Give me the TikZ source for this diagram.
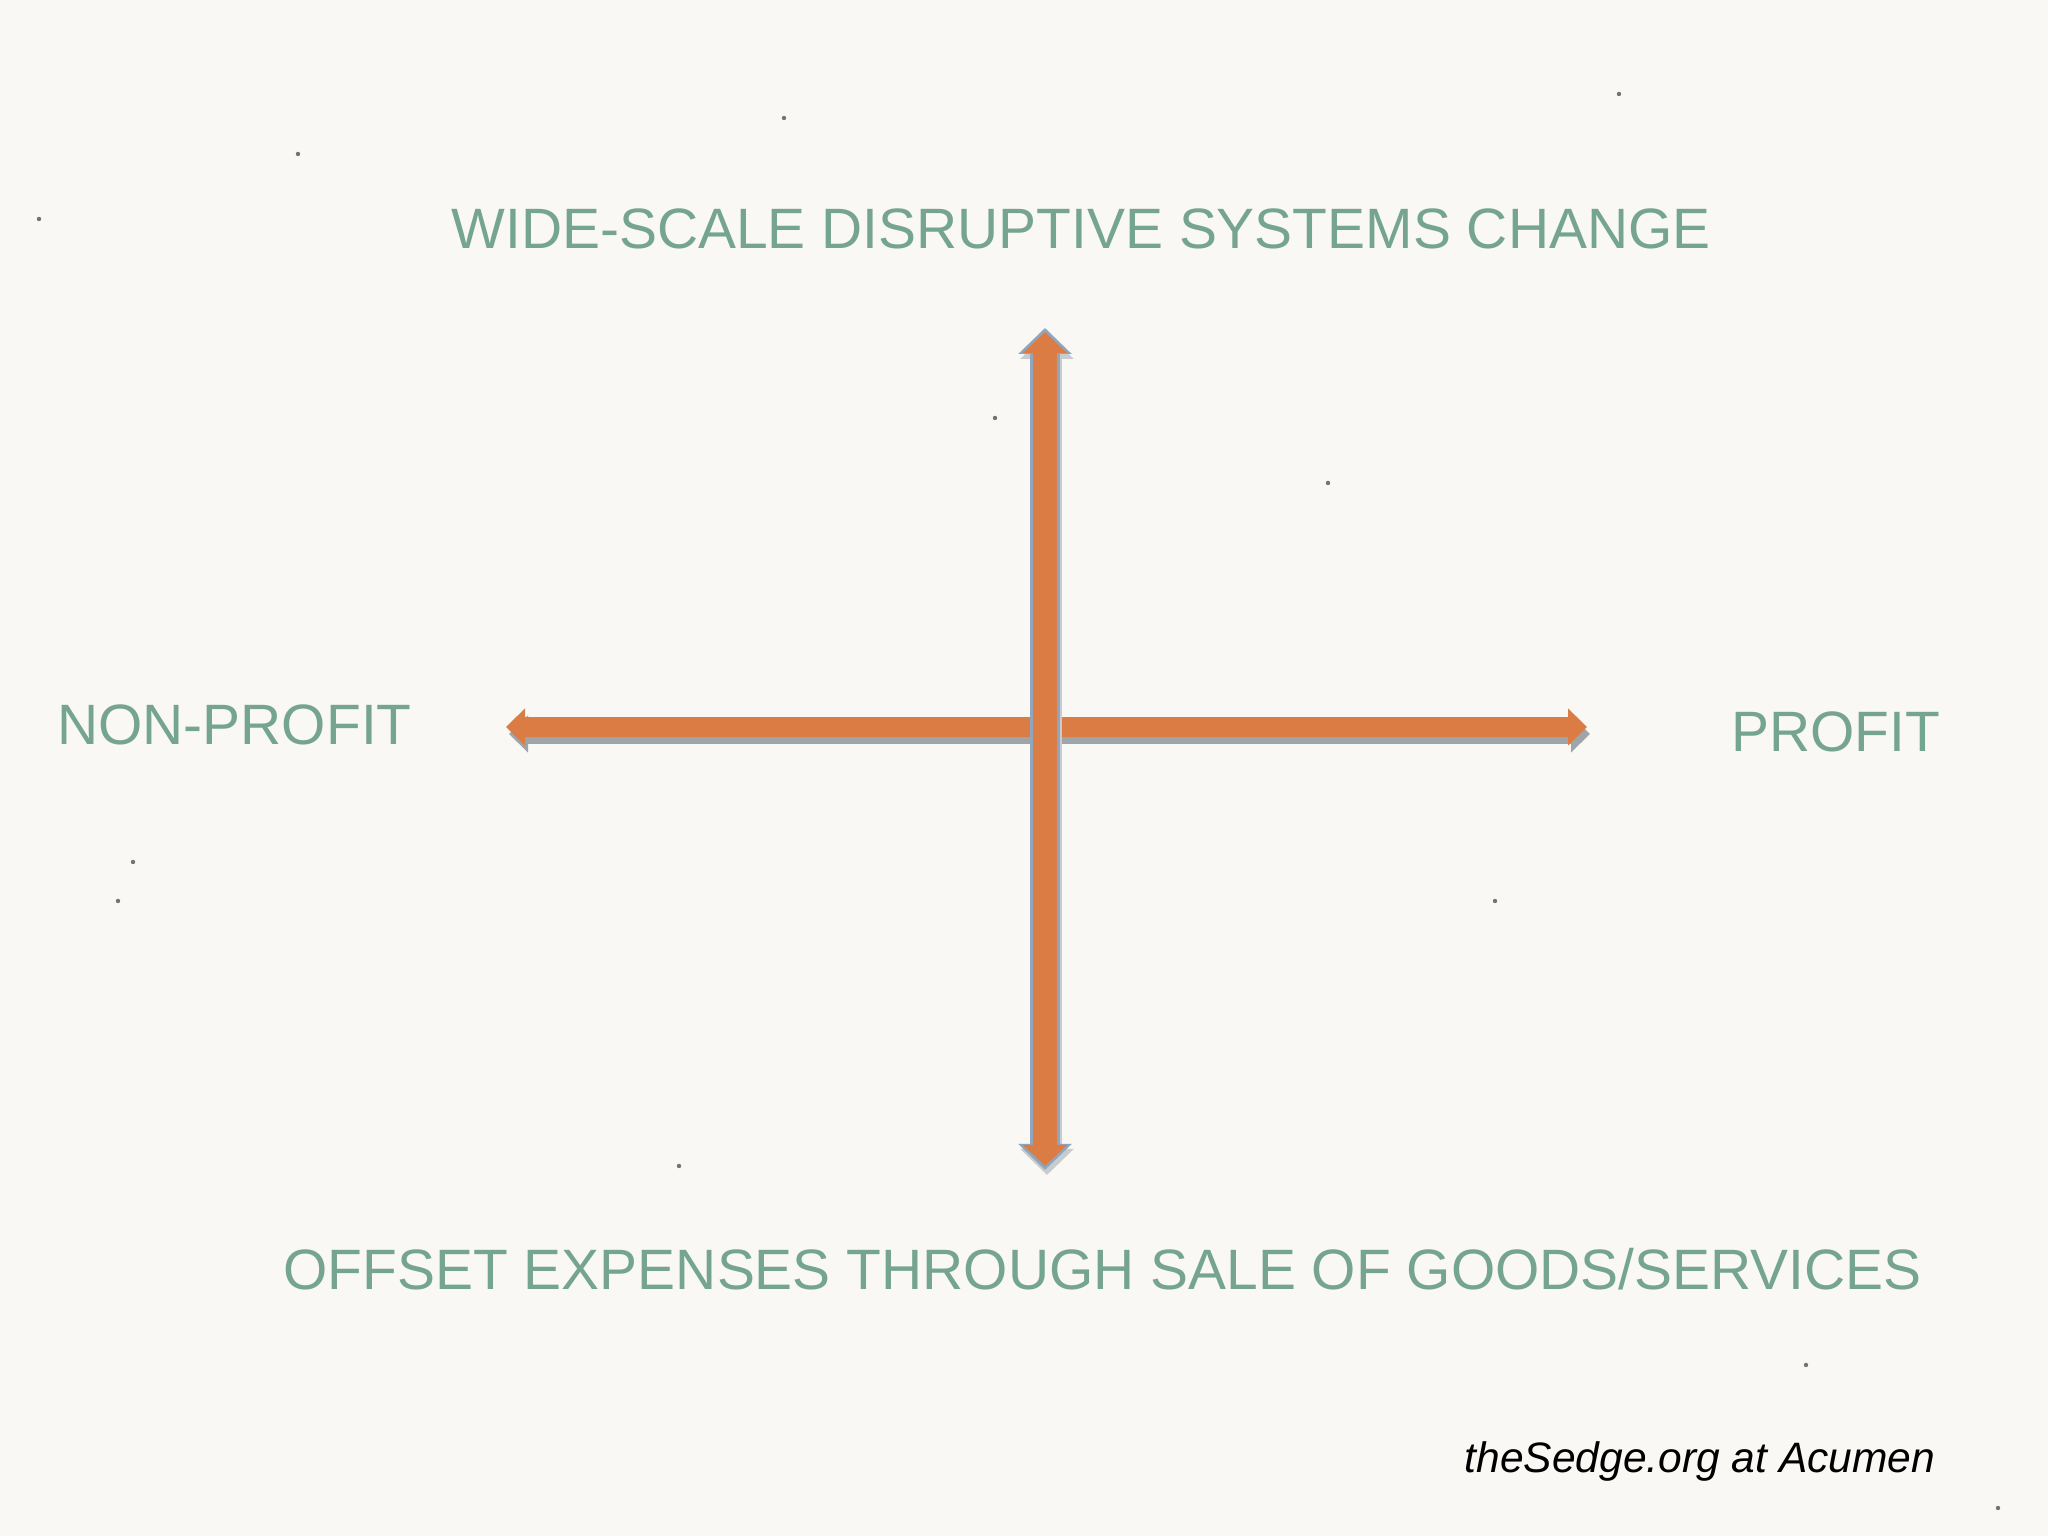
\documentclass[tikz,border=0pt]{standalone}
\usepackage{fontspec}
\setmainfont{Liberation Sans}
\usetikzlibrary{arrows.meta}
\definecolor{paper}{RGB}{249,248,245}
\definecolor{sage}{RGB}{118,164,146}
\definecolor{rust}{RGB}{219,124,69}
\definecolor{steel}{RGB}{143,166,188}
\definecolor{dropgray}{RGB}{158,165,170}
\definecolor{softgray}{RGB}{200,204,207}
\newcommand{\axisfont}{\fontsize{16.2}{20}\selectfont}

\begin{document}
\begin{tikzpicture}[thick,
    label/.style={text=sage,font=\axisfont,anchor=base,inner sep=0pt},
    hbar/.style={line width=0.20cm,{Triangle[length=0.19cm,width=0.36cm]}-{Triangle[length=0.19cm,width=0.36cm]}},
    vbar/.style={line width=0.30cm,{Triangle[length=0.26cm,width=0.52cm]}-{Triangle[length=0.26cm,width=0.52cm]}},
    vcore/.style={line width=0.24cm,shorten <=0.04cm,shorten >=0.04cm,{Triangle[length=0.21cm,width=0.43cm]}-{Triangle[length=0.21cm,width=0.43cm]}}]

  % paper
  \fill[paper] (0,0) rectangle (20.48,15.36);
  \useasboundingbox (0,0) rectangle (20.48,15.36);
  \foreach \x/\y in {2.98/13.82,0.39/13.17,13.28/10.53,1.18/6.35,16.19/14.42,14.95/6.35,
                     18.06/1.71,1.33/6.74,6.79/3.70,19.98/0.28,7.84/14.18,9.95/11.18}
    \fill[black!55] (\x,\y) circle (0.022cm);

  % axis ends
  \coordinate (W) at (5.06,8.09);
  \coordinate (E) at (15.87,8.09);
  \coordinate (N) at (10.45,12.08);
  \coordinate (S) at (10.45,3.66);

  % horizontal axis
  \draw[hbar,dropgray] ([shift={(0.03,-0.07)}]W) -- ([shift={(0.03,-0.07)}]E);
  \draw[hbar,rust] (W) -- (E);

  % vertical axis
  \draw[vbar,softgray] ([shift={(0.02,-0.05)}]S) -- ([shift={(0.02,-0.05)}]N);
  \draw[vbar,steel] (S) -- (N);
  \draw[vcore,rust] (S) -- (N);

  % labels
  \node[label] (top) at (10.81,12.87) {WIDE-SCALE DISRUPTIVE SYSTEMS CHANGE};
  \node[label] (left) at (2.345,7.91) {NON-PROFIT};
  \node[label] (right) at (18.355,7.84) {PROFIT};
  \node[label] (bottom) at (11.025,2.46) {OFFSET EXPENSES THROUGH SALE OF GOODS/SERVICES};
  \node[anchor=base,inner sep=0pt,font=\fontsize{12.1}{14}\selectfont\itshape] (credit) at (17.00,0.63) {theSedge.org at Acumen};

\end{tikzpicture}
\end{document}
